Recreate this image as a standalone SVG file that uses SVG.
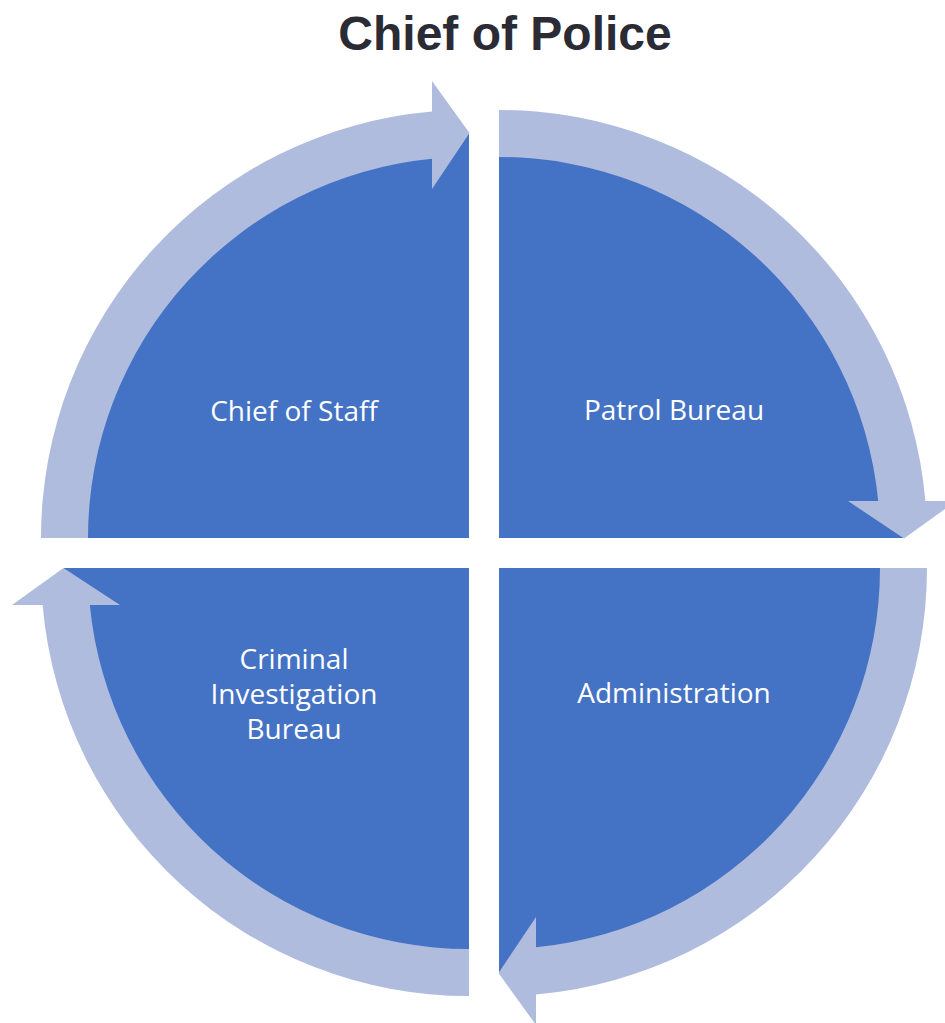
<svg xmlns="http://www.w3.org/2000/svg" width="945" height="1023" viewBox="0 0 945 1023">
  <style>
    .seg { fill: #4472C4; }
    .arr { fill: #B0BCDE; }
    .lbl { font-family: "Open Sans", "Noto Sans", sans-serif; font-size: 28px; fill: #FFFFFF; text-anchor: middle; }
    .title { font-family: "Liberation Sans", Arial, sans-serif; font-size: 48px; font-weight: bold; fill: #2B2B35; text-anchor: middle; }
  </style>
  <rect width="945" height="1023" fill="#FFFFFF"/>
  <text class="title" x="505" y="50">Chief of Police</text>

  <g id="node-chief-of-staff">
    <path class="seg" d="M469,538 L64,538 A405,405 0 0 1 469,133 Z"/>
    <text class="lbl" x="294" y="420.5">Chief of Staff</text>
  </g>
  <g id="node-patrol-bureau">
    <path class="seg" d="M499,538 L499,133 A405,405 0 0 1 904,538 Z"/>
    <text class="lbl" x="674" y="420">Patrol Bureau</text>
  </g>
  <g id="node-administration">
    <path class="seg" d="M499,568 L904,568 A405,405 0 0 1 499,973 Z"/>
    <text class="lbl" x="674" y="702.5">Administration</text>
  </g>
  <g id="node-criminal-investigation">
    <path class="seg" d="M469,568 L469,973 A405,405 0 0 1 64,568 Z"/>
    <text class="lbl" x="294" y="668.5">Criminal</text>
    <text class="lbl" x="294" y="703.5">Investigation</text>
    <text class="lbl" x="294" y="738.5">Bureau</text>
  </g>

  <g id="connectors">
    <path class="arr" d="M41,538 A428,428 0 0 1 432,111.6 L432,81 L469.5,133 L432,189 L432,158.8 A381,381 0 0 0 88,538 Z"/>
    <path class="arr" d="M499,110 A428,428 0 0 1 925.4,501 L956,501 L904,538.5 L848,501 L878.2,501 A381,381 0 0 0 499,157 Z"/>
    <path class="arr" d="M927,568 A428,428 0 0 1 536,994.4 L536,1025 L498.5,973 L536,917 L536,947.2 A381,381 0 0 0 880,568 Z"/>
    <path class="arr" d="M469,996 A428,428 0 0 1 42.6,605 L12,605 L63.5,568 L120,605 L89.8,605 A381,381 0 0 0 469,949 Z"/>
  </g>
</svg>
